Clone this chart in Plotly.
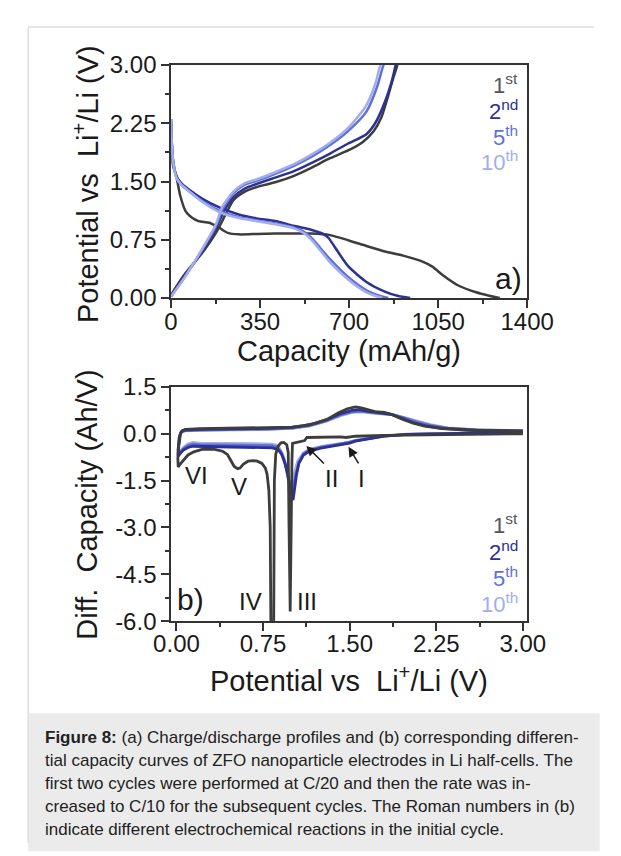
import numpy as np
import plotly.graph_objects as go

W, H = 621, 856
FONT = "Liberation Sans, Arial, sans-serif"

# ---------------- data: (a) charge/discharge profiles ----------------
cycles = ["1st", "2nd", "5th", "10th"]
colors = ["#3d3d3d", "#2c3193", "#6070d6", "#a3aeec"]

dis_cap = {
    "1st": [0, 3, 8, 20, 36, 57, 80, 108, 151, 187, 223, 266, 340, 409, 480, 553, 625, 696, 768, 840, 912, 984, 1027, 1070, 1127, 1199, 1250, 1292],
    "2nd": [0, 3, 8, 21, 40, 65, 122, 194, 266, 337, 409, 481, 553, 596, 620, 639, 696, 768, 840, 890, 940],
    "5th": [0, 3, 8, 21, 40, 65, 122, 194, 266, 337, 409, 481, 524, 553, 625, 696, 768, 840, 854],
    "10th": [0, 3, 8, 21, 40, 65, 122, 194, 266, 337, 409, 481, 524, 553, 625, 696, 768, 810, 830],
}
dis_pot = {
    "1st": [2.25, 1.95, 1.70, 1.58, 1.32, 1.12, 1.04, 0.99, 0.97, 0.91, 0.84, 0.82, 0.825, 0.83, 0.83, 0.83, 0.81, 0.745, 0.67, 0.60, 0.546, 0.476, 0.405, 0.29, 0.165, 0.074, 0.03, 0.0],
    "2nd": [2.30, 2.00, 1.78, 1.57, 1.48, 1.41, 1.28, 1.16, 1.076, 1.026, 0.993, 0.93, 0.877, 0.83, 0.77, 0.68, 0.41, 0.207, 0.083, 0.03, 0.0],
    "5th": [2.30, 2.00, 1.76, 1.55, 1.46, 1.39, 1.25, 1.12, 1.04, 1.00, 0.96, 0.91, 0.85, 0.77, 0.50, 0.27, 0.10, 0.01, 0.0],
    "10th": [2.30, 2.00, 1.76, 1.55, 1.46, 1.39, 1.24, 1.10, 1.03, 0.99, 0.95, 0.90, 0.83, 0.745, 0.46, 0.24, 0.074, 0.02, 0.0],
}
chg_cap = {
    "1st": [0, 50, 122, 180, 215, 245, 290, 337, 409, 481, 553, 625, 696, 754, 797, 826, 854, 876, 890],
    "2nd": [0, 50, 122, 175, 210, 245, 290, 337, 409, 481, 553, 625, 696, 768, 804, 840, 869, 883],
    "5th": [0, 50, 122, 175, 205, 245, 290, 337, 409, 481, 553, 625, 696, 768, 811, 833, 837],
    "10th": [0, 50, 122, 175, 202, 245, 290, 337, 409, 481, 553, 625, 696, 764, 804, 820, 826],
}
chg_pot = {
    "1st": [0.04, 0.29, 0.58, 0.86, 1.08, 1.26, 1.37, 1.43, 1.49, 1.57, 1.68, 1.80, 1.90, 2.01, 2.15, 2.32, 2.61, 2.86, 3.0],
    "2nd": [0.02, 0.27, 0.60, 0.89, 1.13, 1.30, 1.41, 1.47, 1.55, 1.63, 1.74, 1.86, 1.99, 2.11, 2.26, 2.52, 2.81, 3.0],
    "5th": [0.02, 0.25, 0.62, 0.92, 1.16, 1.35, 1.46, 1.51, 1.60, 1.70, 1.82, 1.97, 2.15, 2.40, 2.73, 2.98, 3.0],
    "10th": [0.02, 0.25, 0.63, 0.94, 1.18, 1.37, 1.48, 1.53, 1.62, 1.72, 1.85, 2.00, 2.19, 2.46, 2.77, 2.97, 3.0],
}

# ---------------- data: (b) differential capacity ----------------
dqdv_v = {
    "1st": [3.00, 2.60, 2.20, 1.80, 1.55, 1.47, 1.42, 1.33, 1.20, 1.13, 1.11, 1.06, 1.005, 1.0, 0.992, 0.985, 0.975, 0.968, 0.955, 0.93, 0.905, 0.88, 0.86, 0.848, 0.842, 0.836, 0.818, 0.812, 0.80, 0.785, 0.77, 0.74, 0.70, 0.665, 0.62, 0.58, 0.55, 0.53, 0.50, 0.47, 0.44, 0.40, 0.33, 0.22, 0.15, 0.10, 0.06, 0.03, 0.015,
            0.012, 0.02, 0.035, 0.05, 0.08, 0.20, 0.50, 0.80, 1.00, 1.10, 1.20, 1.30, 1.40, 1.48, 1.55, 1.60, 1.65, 1.72, 1.80, 1.87, 1.95, 2.05, 2.15, 2.30, 2.50, 2.75, 3.00],
    "2nd": [3.00, 2.50, 2.00, 1.80, 1.65, 1.55, 1.50, 1.45, 1.35, 1.25, 1.15, 1.10, 1.06, 1.04, 1.025, 1.01, 0.995, 0.98, 0.96, 0.94, 0.91, 0.88, 0.83, 0.70, 0.50, 0.30, 0.20, 0.14, 0.10, 0.06, 0.035, 0.015,
            0.015, 0.025, 0.04, 0.07, 0.20, 0.50, 0.80, 1.00, 1.15, 1.30, 1.42, 1.52, 1.58, 1.65, 1.75, 1.85, 1.95, 2.05, 2.15, 2.30, 2.60, 3.00],
    "5th": [3.00, 2.50, 2.00, 1.80, 1.65, 1.55, 1.50, 1.45, 1.35, 1.25, 1.15, 1.10, 1.06, 1.035, 1.015, 1.0, 0.985, 0.97, 0.95, 0.93, 0.90, 0.87, 0.83, 0.70, 0.50, 0.30, 0.20, 0.14, 0.10, 0.06, 0.035, 0.015,
            0.015, 0.025, 0.04, 0.07, 0.20, 0.50, 0.80, 1.00, 1.15, 1.30, 1.42, 1.52, 1.60, 1.68, 1.78, 1.88, 1.98, 2.08, 2.20, 2.35, 2.60, 3.00],
    "10th": [3.00, 2.50, 2.00, 1.80, 1.65, 1.55, 1.50, 1.45, 1.35, 1.25, 1.15, 1.10, 1.05, 1.025, 1.005, 0.99, 0.975, 0.96, 0.94, 0.92, 0.89, 0.86, 0.82, 0.70, 0.50, 0.30, 0.20, 0.14, 0.10, 0.06, 0.035, 0.015,
            0.015, 0.025, 0.04, 0.07, 0.20, 0.50, 0.80, 1.00, 1.15, 1.30, 1.42, 1.52, 1.60, 1.68, 1.78, 1.88, 1.98, 2.08, 2.20, 2.35, 2.60, 3.00],
}
dqdv_q = {
    "1st": [0.00, -0.01, -0.02, -0.05, -0.08, -0.12, -0.10, -0.10, -0.10, -0.12, -0.22, -0.26, -0.31, -0.9, -3.0, -5.69, -3.0, -0.6, -0.35, -0.28, -0.29, -0.40, -0.65, -1.5, -6.3, -6.3, -6.3, -3.0, -1.8, -1.3, -1.1, -0.95, -0.88, -0.86, -0.88, -0.97, -1.10, -1.12, -1.05, -0.85, -0.66, -0.56, -0.50, -0.50, -0.58, -0.68, -0.84, -0.98, -1.06,
            -0.8, -0.4, 0.0, 0.10, 0.14, 0.16, 0.17, 0.18, 0.21, 0.26, 0.33, 0.45, 0.66, 0.80, 0.86, 0.83, 0.77, 0.71, 0.68, 0.61, 0.47, 0.34, 0.24, 0.16, 0.12, 0.10, 0.08],
    "2nd": [0.05, 0.02, -0.02, -0.08, -0.17, -0.24, -0.30, -0.34, -0.40, -0.46, -0.56, -0.68, -0.95, -1.3, -1.8, -2.12, -2.0, -1.6, -1.25, -0.95, -0.65, -0.50, -0.45, -0.44, -0.44, -0.43, -0.42, -0.40, -0.44, -0.52, -0.62, -0.72,
            -0.5, -0.1, 0.06, 0.12, 0.14, 0.15, 0.17, 0.20, 0.28, 0.45, 0.64, 0.75, 0.77, 0.72, 0.68, 0.63, 0.50, 0.36, 0.26, 0.17, 0.11, 0.08],
    "5th": [0.05, 0.02, -0.02, -0.08, -0.16, -0.22, -0.27, -0.31, -0.37, -0.43, -0.52, -0.64, -0.92, -1.3, -1.75, -1.95, -1.8, -1.45, -1.1, -0.8, -0.55, -0.43, -0.38, -0.37, -0.37, -0.36, -0.35, -0.33, -0.38, -0.48, -0.58, -0.68,
            -0.5, -0.1, 0.05, 0.10, 0.12, 0.13, 0.15, 0.18, 0.26, 0.42, 0.60, 0.70, 0.72, 0.68, 0.65, 0.60, 0.50, 0.38, 0.27, 0.18, 0.12, 0.09],
    "10th": [0.06, 0.03, -0.01, -0.07, -0.15, -0.21, -0.26, -0.30, -0.35, -0.41, -0.50, -0.62, -0.88, -1.2, -1.55, -1.65, -1.5, -1.2, -0.9, -0.65, -0.45, -0.36, -0.33, -0.32, -0.32, -0.31, -0.30, -0.28, -0.33, -0.44, -0.55, -0.65,
            -0.5, -0.1, 0.04, 0.09, 0.11, 0.12, 0.14, 0.17, 0.24, 0.40, 0.58, 0.68, 0.70, 0.67, 0.64, 0.60, 0.51, 0.40, 0.29, 0.19, 0.12, 0.10],
}

# ---------------- tick labels ----------------
a_xticks = [0, 350, 700, 1050, 1400]
a_xtext = ["0", "350", "700", "1050", "1400"]
a_yticks = [0, 0.75, 1.5, 2.25, 3.0]
a_ytext = ["0.00", "0.75", "1.50", "2.25", "3.00"]
b_xticks = [0, 0.75, 1.5, 2.25, 3.0]
b_xtext = ["0.00", "0.75", "1.50", "2.25", "3.00"]
b_yticks = [1.5, 0, -1.5, -3.0, -4.5, -6.0]
b_ytext = ["1.5", "0.0", "-1.5", "-3.0", "-4.5", "-6.0"]

# peak labels in (b)
peak_names = ["VI", "V", "IV", "III", "II", "I"]
peak_x = [0.17, 0.54, 0.64, 1.13, 1.345, 1.605]
peak_y = [-1.34, -1.70, -5.37, -5.37, -1.44, -1.44]

caption_lines = [
    "<b>Figure 8:</b> (a) Charge/discharge profiles and (b) corresponding differen-",
    "tial capacity curves of ZFO nanoparticle electrodes in Li half-cells. The",
    "first two cycles were performed at C/20 and then the rate was in-",
    "creased to C/10 for the subsequent cycles. The Roman numbers in (b)",
    "indicate different electrochemical reactions in the initial cycle.",
]


def py(p):
    return 1 - p / H


def px(p):
    return p / W


fig = go.Figure()

for c, col in zip(cycles, colors):
    fig.add_trace(go.Scatter(x=dis_cap[c], y=dis_pot[c], mode="lines", line=dict(color=col, width=2.5, shape="spline", smoothing=0.6),
                             xaxis="x", yaxis="y", showlegend=False, name=c))
    fig.add_trace(go.Scatter(x=chg_cap[c], y=chg_pot[c], mode="lines", line=dict(color=col, width=2.5, shape="spline", smoothing=0.6),
                             xaxis="x", yaxis="y", showlegend=False, name=c))

# draw light cycles first in (b) so 1st sits on top
for c, col in reversed(list(zip(cycles, colors))):
    fig.add_trace(go.Scatter(x=dqdv_v[c], y=dqdv_q[c], mode="lines", line=dict(color=col, width=2.8),
                             xaxis="x2", yaxis="y2", showlegend=False, name=c))

axis_common = dict(showline=True, linecolor="#333", linewidth=1.5, mirror=True, ticks="outside", ticklen=8,
                   tickwidth=1.5, tickcolor="#333", showgrid=False, zeroline=False,
                   tickfont=dict(family=FONT, size=24, color="#1a1a1a"))


def minor_vals(major):
    m = np.asarray(major, dtype=float)
    return list((m[:-1] + m[1:]) / 2)


minor_style = dict(ticks="outside", ticklen=4, tickcolor="#333", tickwidth=1.5)
xdom = [px(165), px(549)]
fig.update_layout(
    width=W, height=H, margin=dict(l=0, r=0, t=0, b=0),
    paper_bgcolor="white", plot_bgcolor="white",
    xaxis=dict(domain=xdom, range=[0, 1400], tickvals=a_xticks, ticktext=a_xtext, anchor="y", ticklabelstandoff=-7,
               minor=dict(tickvals=minor_vals(a_xticks), **minor_style), **axis_common),
    yaxis=dict(domain=[py(293.3), py(52.7)], range=[0, 3], tickvals=a_yticks, ticktext=a_ytext, anchor="x",
               minor=dict(tickvals=minor_vals(a_yticks), **minor_style), **axis_common),
    xaxis2=dict(domain=xdom, range=[-0.047, 3.038], tickvals=b_xticks, ticktext=b_xtext, anchor="y2", ticklabelstandoff=-8,
                minor=dict(tickvals=minor_vals(b_xticks), **minor_style), **axis_common),
    yaxis2=dict(domain=[py(627), py(385)], range=[-6.0, 1.5], tickvals=b_yticks, ticktext=b_ytext, anchor="x2",
                minor=dict(tickvals=minor_vals(b_yticks), **minor_style), **axis_common),
)

shapes = [
    dict(type="rect", xref="paper", yref="paper", x0=px(11), x1=1.01, y0=-0.01, y1=py(722), fillcolor="#ebebeb", line=dict(width=0), layer="below"),
    dict(type="line", xref="paper", yref="paper", x0=px(11), x1=1.0, y0=py(13.5), y1=py(13.5), line=dict(color="#dedede", width=1.5)),
    dict(type="line", xref="paper", yref="paper", x0=px(11), x1=px(11), y0=py(13.5), y1=0, line=dict(color="#dedede", width=1.5)),
]
fig.update_layout(shapes=shapes)

ann = []
title_font = dict(family=FONT, size=29, color="#1a1a1a")


def pann(text, x, y, **kw):
    d = dict(text=text, xref="paper", yref="paper", x=x, y=y, showarrow=False, xanchor="center", yanchor="middle")
    d.update(kw)
    return d


ann.append(pann("Capacity (mAh/g)", px(357), py(348), font=title_font))
ann.append(pann("Potential vs&nbsp; Li<sup>+</sup>/Li (V)", px(357), py(687), font=title_font))
ann.append(pann("Potential vs&nbsp; Li<sup>+</sup>/Li (V)", px(74), py(176), font=title_font, textangle=-90))
ann.append(pann("Diff.&nbsp; Capacity (Ah/V)", px(74), py(507), font=title_font, textangle=-90))

ann.append(pann("a)", px(529), py(273), font=dict(family=FONT, size=30, color="#1a1a1a")))
ann.append(pann("b)", px(186), py(605), font=dict(family=FONT, size=30, color="#1a1a1a")))

sup = ["st", "nd", "th", "th"]
nums = ["1", "2", "5", "10"]
top_leg_y = [72, 99, 126, 152]
bot_leg_y = [527, 554, 581, 608]
for n, s, col, ya, yb in zip(nums, sup, colors, top_leg_y, bot_leg_y):
    t = f"{n}<sup>{s}</sup>"
    lc = "#555" if n == "1" else col
    for yy in (ya, yb):
        ann.append(pann(t, px(541), py(yy), xanchor="right", font=dict(family=FONT, size=22, color=lc)))

for name, xx, yy in zip(peak_names, peak_x, peak_y):
    ann.append(dict(text=name, xref="x2", yref="y2", x=xx, y=yy, showarrow=False, xanchor="center", yanchor="middle",
                    font=dict(family=FONT, size=24, color="#1a1a1a")))

# arrows for II and I
ann.append(dict(text="", xref="x2", yref="y2", x=1.125, y=-0.39, ax=1.29, ay=-1.0, axref="x2", ayref="y2",
                showarrow=True, arrowhead=2, arrowsize=1.3, arrowwidth=1.5, arrowcolor="#1a1a1a"))
ann.append(dict(text="", xref="x2", yref="y2", x=1.49, y=-0.42, ax=1.585, ay=-1.0, axref="x2", ayref="y2",
                showarrow=True, arrowhead=2, arrowsize=1.3, arrowwidth=1.5, arrowcolor="#1a1a1a"))

cap_y = [746.7, 770.5, 794.5, 818.3, 842]
for line, yy in zip(caption_lines, cap_y):
    ann.append(pann(line, px(27), py(yy), xanchor="left", font=dict(family=FONT, size=17, color="#222")))

fig.update_layout(annotations=ann)
fig.write_html("out.html", post_script="document.body.style.margin='0';document.documentElement.style.overflow='hidden';")
